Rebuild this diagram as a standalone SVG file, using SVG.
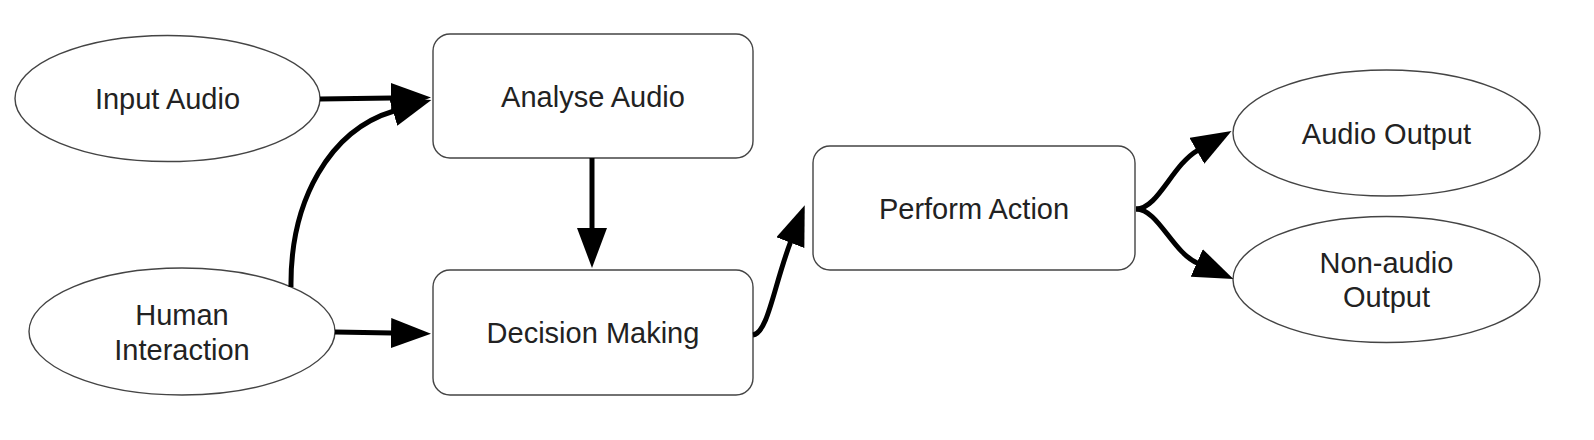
<svg xmlns="http://www.w3.org/2000/svg" width="1594" height="440" viewBox="0 0 1594 440">
<style>
.shape{fill:#fff;stroke:#444;stroke-width:1.4}
.lbl{font-family:"Liberation Sans",Arial,sans-serif;font-size:29px;fill:#222;text-anchor:middle}
.conn{fill:none;stroke:#000;stroke-width:5}
</style>
<defs>
<marker id="ah" markerUnits="userSpaceOnUse" viewBox="0 0 40 30" markerWidth="40" markerHeight="30" refX="1" refY="15" orient="auto">
<path d="M0,0 L40,15 L0,30 z" fill="#000"/>
</marker>
</defs>
<rect width="1594" height="440" fill="#fff"/>
<g id="input-audio">
<ellipse class="shape" cx="167.5" cy="98.5" rx="152.5" ry="63"/>
<text class="lbl" x="167.5" y="109">Input Audio</text>
</g>
<g id="human-interaction">
<ellipse class="shape" cx="182" cy="331.5" rx="153" ry="63.5"/>
<text class="lbl" x="182" y="325">Human</text>
<text class="lbl" x="182" y="360">Interaction</text>
</g>
<g id="analyse-audio">
<rect class="shape" x="433" y="34" width="320" height="124" rx="17"/>
<text class="lbl" x="593" y="107">Analyse Audio</text>
</g>
<g id="decision-making">
<rect class="shape" x="433" y="270" width="320" height="125" rx="17"/>
<text class="lbl" x="593" y="343">Decision Making</text>
</g>
<g id="perform-action">
<rect class="shape" x="813" y="146" width="322" height="124" rx="17"/>
<text class="lbl" x="974" y="219">Perform Action</text>
</g>
<g id="audio-output">
<ellipse class="shape" cx="1386.5" cy="133" rx="153.5" ry="63"/>
<text class="lbl" x="1386.5" y="144">Audio Output</text>
</g>
<g id="non-audio-output">
<ellipse class="shape" cx="1386.5" cy="279.5" rx="153.5" ry="63"/>
<text class="lbl" x="1386.5" y="273">Non-audio</text>
<text class="lbl" x="1386.5" y="307">Output</text>
</g>
<g id="connectors">
<path class="conn" marker-end="url(#ah)" d="M320,99 L392,98"/>
<path class="conn" marker-end="url(#ah)" d="M291,287 C290,200 330,130 394,111"/>
<path class="conn" marker-end="url(#ah)" d="M335,332 L392,333"/>
<path class="conn" marker-end="url(#ah)" d="M592,158 L592,229"/>
<path class="conn" marker-end="url(#ah)" d="M753,335 C768,333 774,285 790.7,241.7"/>
<path class="conn" marker-end="url(#ah)" d="M1136,209 C1158,209 1172,165 1197.7,150.3"/>
<path class="conn" marker-end="url(#ah)" d="M1136,209 C1158,209 1172,252 1197.7,263.3"/>
</g>
</svg>
